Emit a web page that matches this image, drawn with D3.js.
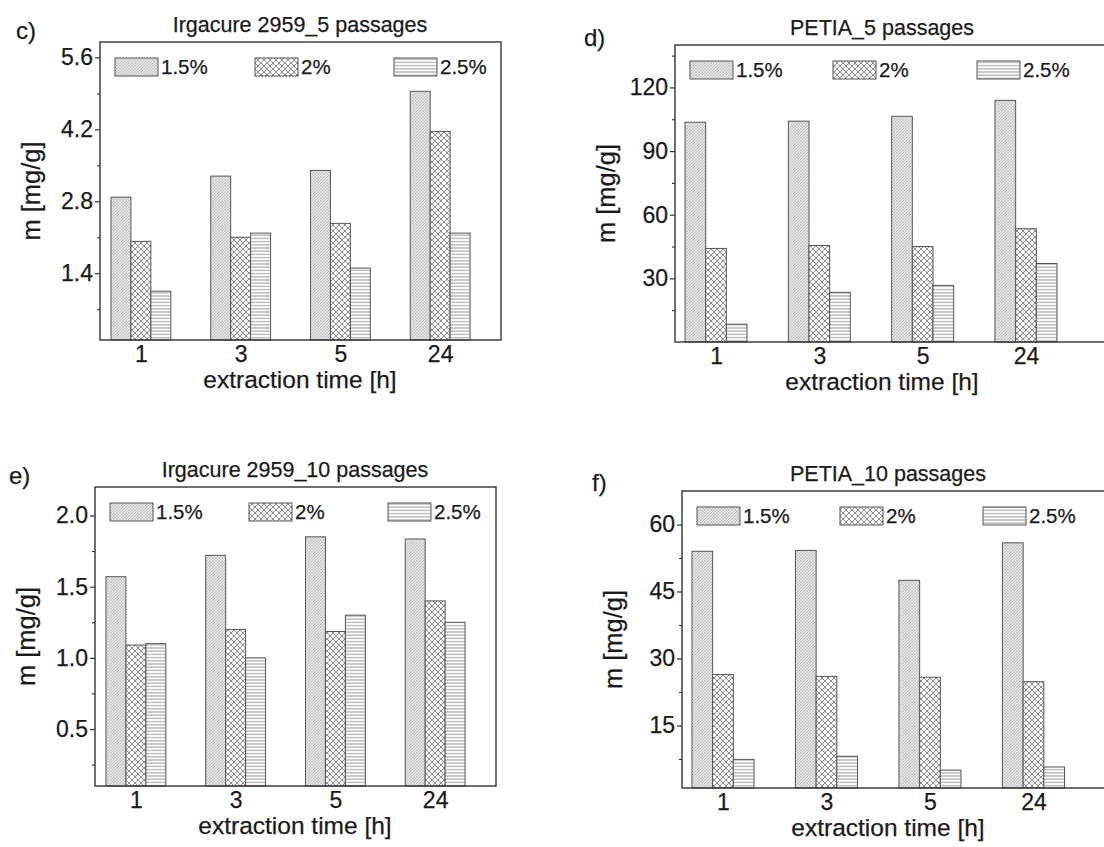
<!DOCTYPE html>
<html>
<head>
<meta charset="utf-8">
<title>Extraction time bar charts</title>
<script src="https://d3js.org/d3.v7.min.js"></script>
<style>
  body { margin: 0; background: #fff; }
  text { font-family: Arial, "Liberation Sans", sans-serif; fill: #1a1a1a; stroke: #1a1a1a; stroke-width: 0.25px; }
</style>
</head>
<body>
<script>
// extraction time categories and legend series
var categories = ["1", "3", "5", "24"];
var series = ["1.5%", "2%", "2.5%"];

// m [mg/g], one array per concentration
var irg5_15 = [2.88, 3.29, 3.40, 4.94];
var irg5_20 = [2.02, 2.10, 2.37, 4.16];
var irg5_25 = [1.05, 2.18, 1.50, 2.18];

var petia5_15 = [103.6, 104.1, 106.4, 113.9];
var petia5_20 = [44.1, 45.5, 45.0, 53.4];
var petia5_25 = [8.4, 23.4, 26.7, 37.0];

var irg10_15 = [1.57, 1.72, 1.85, 1.835];
var irg10_20 = [1.09, 1.20, 1.185, 1.40];
var irg10_25 = [1.10, 1.00, 1.30, 1.25];

var petia10_15 = [54.0, 54.2, 47.5, 55.9];
var petia10_20 = [26.4, 26.0, 25.8, 24.8];
var petia10_25 = [7.4, 8.1, 5.0, 5.7];

// y tick labels (major) and minor tick positions
var irg5Ticks = [1.4, 2.8, 4.2, 5.6];
var irg5Minor = [0.7, 2.1, 3.5, 4.9];
var petia5Ticks = [30, 60, 90, 120];
var petia5Minor = [15, 45, 75, 105, 135];
var irg10Ticks = [0.5, 1.0, 1.5, 2.0];
var irg10Minor = [0.25, 0.75, 1.25, 1.75];
var petia10Ticks = [15, 30, 45, 60];
var petia10Minor = [7.5, 22.5, 37.5, 52.5];

var panels = [
  {tag: "c)", tagX: 16, tagY: 39, title: "Irgacure 2959_5 passages",
   values: [irg5_15, irg5_20, irg5_25], ticks: irg5Ticks, minor: irg5Minor, fmt: ".1f",
   yDom: [0.1, 5.9], xDom: [0.59, 4.61], left: 100, right: 501, top: 42, bottom: 340,
   legX: [15, 155, 294], mid: 200},
  {tag: "d)", tagX: 584, tagY: 46, title: "PETIA_5 passages",
   values: [petia5_15, petia5_20, petia5_25], ticks: petia5Ticks, minor: petia5Minor, fmt: "d",
   yDom: [0, 140], xDom: [0.603, 4.91], left: 675, right: 1120, top: 45, bottom: 342,
   legX: [15, 158, 302], mid: 207},
  {tag: "e)", tagX: 9, tagY: 484, title: "Irgacure 2959_10 passages",
   values: [irg10_15, irg10_20, irg10_25], ticks: irg10Ticks, minor: irg10Minor, fmt: ".1f",
   yDom: [0.1, 2.2], xDom: [0.59, 4.61], left: 95, right: 496, top: 487, bottom: 786,
   legX: [15, 154, 293], mid: 200},
  {tag: "f)", tagX: 592, tagY: 491, title: "PETIA_10 passages",
   values: [petia10_15, petia10_20, petia10_25], ticks: petia10Ticks, minor: petia10Minor, fmt: "d",
   yDom: [1, 67.5], xDom: [0.604, 4.836], left: 682, right: 1120, top: 491, bottom: 788,
   legX: [15, 158, 301], mid: 206}
];

var svg = d3.select("body").append("svg")
    .attr("width", 1104)
    .attr("height", 847);

// hatch fills, one per concentration
var defs = svg.append("defs");

var p15 = defs.append("pattern").attr("id", "hatch0")
    .attr("patternUnits", "userSpaceOnUse").attr("width", 3).attr("height", 3);
p15.append("rect").attr("width", 3).attr("height", 3).attr("fill", "#ececec");
p15.append("path").attr("d", "M0,0 L3,3 M-1,2 L1,4 M2,-1 L4,1")
    .attr("stroke", "#c8c8c8").attr("stroke-width", 0.5);
p15.append("path").attr("d", "M-1,1 L1,-1 M0,3 L3,0 M2,4 L4,2")
    .attr("stroke", "#969696").attr("stroke-width", 0.55);

var p20 = defs.append("pattern").attr("id", "hatch1")
    .attr("patternUnits", "userSpaceOnUse").attr("width", 6).attr("height", 6);
p20.append("rect").attr("width", 6).attr("height", 6).attr("fill", "#f8f8f8");
p20.append("path").attr("d", "M0,0 L6,6 M6,0 L0,6")
    .attr("stroke", "#6a6a6a").attr("stroke-width", 0.75);

var p25 = defs.append("pattern").attr("id", "hatch2")
    .attr("patternUnits", "userSpaceOnUse").attr("width", 4).attr("height", 3.2);
p25.append("rect").attr("width", 4).attr("height", 3.2).attr("fill", "#fff");
p25.append("path").attr("d", "M0,1.6 H4")
    .attr("stroke", "#707070").attr("stroke-width", 0.8);

panels.forEach(function(p) {
  var x = d3.scaleLinear().domain(p.xDom).range([p.left, p.right]);
  var y = d3.scaleLinear().domain(p.yDom).range([p.bottom, p.top]);
  var g = svg.append("g");

  // bars
  p.values.forEach(function(vals, s) {
    g.selectAll(".bar" + s)
      .data(vals)
      .enter().append("rect")
        .attr("x", function(d, i) { return x(i + 1 - 0.3 + s * 0.2); })
        .attr("y", function(d) { return y(d); })
        .attr("width", function(d, i) { return x(i + 1 - 0.1 + s * 0.2) - x(i + 1 - 0.3 + s * 0.2); })
        .attr("height", function(d) { return p.bottom - y(d); })
        .attr("fill", "url(#hatch" + s + ")")
        .attr("stroke", "#555")
        .attr("stroke-width", 1);
  });

  // frame
  g.append("rect")
    .attr("x", p.left).attr("y", p.top)
    .attr("width", p.right - p.left).attr("height", p.bottom - p.top)
    .attr("fill", "none").attr("stroke", "#333").attr("stroke-width", 1.4);

  // y axis
  var ya = g.append("g").attr("transform", "translate(" + p.left + ",0)")
    .call(d3.axisLeft(y).tickValues(p.ticks).tickSize(5).tickPadding(2)
      .tickFormat(d3.format(p.fmt)));
  ya.select(".domain").remove();
  ya.selectAll("line").attr("stroke", "#333").attr("stroke-width", 1.2);
  ya.selectAll("text").attr("font-size", 23).attr("fill", "#1a1a1a")
    .attr("font-family", "Arial, 'Liberation Sans', sans-serif");

  var ym = g.append("g").attr("transform", "translate(" + p.left + ",0)")
    .call(d3.axisLeft(y).tickValues(p.minor).tickSize(3).tickFormat(""));
  ym.select(".domain").remove();
  ym.selectAll("line").attr("stroke", "#333").attr("stroke-width", 1.1);

  // x axis
  var xa = g.append("g").attr("transform", "translate(0," + p.bottom + ")")
    .call(d3.axisBottom(x).tickValues([1, 2, 3, 4]).tickSize(0).tickPadding(6)
      .tickFormat(function(d) { return categories[d - 1]; }));
  xa.select(".domain").remove();
  xa.selectAll("text").attr("font-size", 23).attr("fill", "#1a1a1a")
    .attr("font-family", "Arial, 'Liberation Sans', sans-serif");

  // legend
  series.forEach(function(name, s) {
    var lx = p.left + p.legX[s], ly = p.top + 16;
    g.append("rect").attr("x", lx).attr("y", ly).attr("width", 43).attr("height", 18)
      .attr("fill", "url(#hatch" + s + ")").attr("stroke", "#555").attr("stroke-width", 1);
    g.append("text").attr("x", lx + 46).attr("y", ly + 9).attr("dy", "0.35em")
      .attr("font-size", 20.5).text(name);
  });

  // titles and labels
  g.append("text").attr("x", p.left + p.mid).attr("y", p.top - 10)
    .attr("text-anchor", "middle").attr("font-size", 21.5).text(p.title);
  g.append("text").attr("x", p.tagX).attr("y", p.tagY)
    .attr("font-size", 24).text(p.tag);
  g.append("text").attr("x", p.left + p.mid).attr("y", p.bottom + 48)
    .attr("text-anchor", "middle").attr("font-size", 24.5).text("extraction time [h]");
  g.append("text")
    .attr("transform", "translate(" + (p.left - 69) + "," + ((p.top + p.bottom) / 2) + ") rotate(-90)")
    .attr("text-anchor", "middle").attr("dy", "0.35em")
    .attr("font-size", 25.5).text("m [mg/g]");
});
</script>
</body>
</html>
